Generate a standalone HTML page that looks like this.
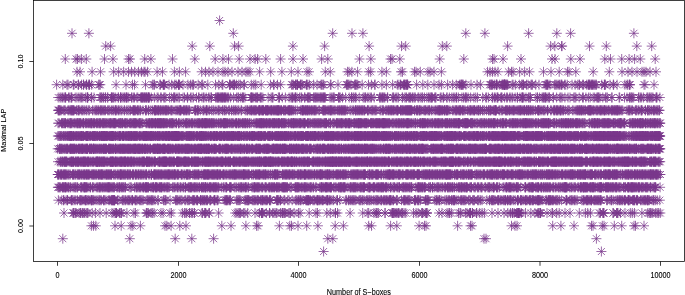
<!DOCTYPE html>
<html><head><meta charset="utf-8"><style>
html,body{margin:0;padding:0;background:#fff;width:685px;height:295px;overflow:hidden}
svg{display:block}
text{font-family:"Liberation Sans",sans-serif;font-size:7.25px;fill:#000;text-anchor:middle;stroke:#000;stroke-width:0.1px}
</style></head><body>
<svg width="685" height="295" viewBox="0 0 685 295">
<defs><marker id="s" markerUnits="userSpaceOnUse" markerWidth="12" markerHeight="12" refX="6" refY="6" overflow="visible"><path d="M2.5 2.5l7 7m0-7l-7 7M1 6h10M6 1v10" fill="none" stroke="#7A378B" stroke-width="0.75"/></marker></defs>
<rect width="685" height="295" fill="#fff"/>
<path d="M323.6 251.5h277.8M62.8 238.7h67h45.4h16.6h21.8h114.2h5h151.2h2h110.4M91.4 225.8h2.1h2.3h19.2h6.2h9.8h1.8h7.6h24.6h1.8h4.3h8.7h6.2h35.8h9.2h14.9h10.6h1.5h21.4h10.4h1.7h6.5h8.7h11.2h17.3h8.2h25.3h2.8h19.1h6.2h22.3h5.4h1.5h31.6h12.9h1.5h39.5h3.5h2h35.7h8.2h13.1h17.5h1.5h9.3h1.7h10.3h7.4h12.3h1.5h8.5M64 213h9h0.5h0.6h1.2h0.8h3h1.4h0.4h1.7h0.5h1.3h1.7h1.2h0.6h4.3h3.2h4.6h6.2h5.8h2.1h1.7h0.1h0.4h0.2h2.9h0.8h1.1h0.1h5.5h7.1h1.5h10.8h0.3h0.7h1.1h2.7h1.3h1.6h7h2h7h1.5h10.9h2.4h0.1h1.8h2.9h0.1h2.3h0.1h2.2h0.1h7.6h0.6h2h0.8h0.4h3.1h0.6h9.1h16.5h1.9h1.8h0.9h0.7h3.3h1.2h2.8h7.3h4.6h1.9h0.1h0.3h0.7h0.1h3.6h3.2h0.2h3.1h1.3h1.8h0.9h3.8h1.7h0.2h1.4h0.3h1h3.7h1h0.7h3.5h4.4h1.5h9.2h6.8h1.5h9.3h3.5h5.1h0.1h2h12.6h12.6h5.1h0.9h5.2h2.1h0.4h1.6h0.1h6.9h0.1h6.8h0.6h0.2h1h0.1h1.2h1.3h1.6h0.8h0.2h2.5h1.1h1.5h1.8h7.7h2.6h2h3.6h0.6h0.4h2.6h1.3h0.3h0.1h12h3h5.1h1.8h0.6h1.8h7.2h1.5h0.7h4.9h1.4h2.6h0.5h0.4h0.1h1.8h0.1h4.1h0.1h3h2.4h2.3h7.6h6h6h3.8h2.7h1.9h0.1h1.7h2.4h0.8h0.7h0.2h0.1h0.4h0.1h0.1h0.8h1.6h4.1h5.3h4.1h3h1h0.2h1.3h0.1h0.1h6.4h5h0.5h4.2h2.5h5.8h5h9.3h6.1h2.3h2.8h8.7h1.2h2.5h0.3h0.5h0.2h9.1h0.3h3.4h0.3h0.3h0.7h2.4h4.6h5.3h2h2.2h7.4h5.9h1.5h1.1h0.7h1.7h2.9h1.5h1.4h1.7M58.4 200.2h3.4h1.7h0.4h2.3h1.3h0.1h3.6h0.3h0.5h0.8h1.4h1.6h1.7h2.2h0.6h0.6h0.3h1h1.8h1.2h0.5h0.1h0.2h1.1h1.1h0.9h2h0.2h0.1h0.6h0.7h0.8h1.5h1.9h1.3h1.4h0.6h1.2h2.2h0.2h0.5h1.6h2.4h1.3h1.5h0.6h0.2h0.4h0.4h0.4h0.3h0.3h0.3h0.5h0.1h0.1h2.8h1.4h3.4h0.7h0.9h1.3h0.7h1.8h0.9h0.8h1.6h1.2h0.2h0.2h2.4h0.8h0.1h1.1h2.3h1h0.8h0.9h1.1h3.9h0.3h1.4h1.1h1.2h0.7h0.6h0.9h1.8h3h0.1h5.4h0.9h1.1h0.5h4.1h5.4h0.8h0.6h0.8h1.5h1.6h1.1h3h0.9h1.8h0.8h1.2h2.8h0.9h0.1h0.8h0.6h1.7h1h0.1h2.9h0.2h0.2h0.1h1.7h0.2h1h1h0.1h1.7h0.1h0.7h2.2h0.9h0.1h3.2h0.6h0.1h0.1h1.3h1.4h0.6h6.3h1.2h0.7h0.1h0.5h0.6h0.8h1.5h0.2h0.5h6.2h1h0.9h1.1h0.6h4.9h0.1h1.4h0.5h0.6h0.5h0.1h0.8h3.1h0.8h1h0.2h1.2h1.6h0.4h1h2.3h0.4h1.1h0.1h0.5h1.1h1.2h1.1h0.1h1.3h1.9h0.2h0.5h0.5h5.9h0.4h0.3h0.4h0.6h0.7h1.5h0.1h3.4h0.7h3.1h1.2h3.2h3.5h1h1.4h0.5h1.3h0.7h0.4h2.2h2.7h0.3h0.6h0.3h0.7h0.2h0.1h0.3h0.3h1.1h0.6h2.4h1.2h0.1h2.1h1.1h0.2h0.3h0.4h1h0.7h1.2h1.3h0.2h1.1h2.4h0.8h0.4h0.2h0.3h0.2h1.6h0.6h1.8h1.6h3.3h0.4h0.1h2.4h5.9h0.9h1.9h0.6h1.5h1.3h0.9h0.9h1.1h1.1h3.2h1h0.1h1.7h0.8h1.4h2.5h0.8h1.6h0.1h1.1h1.5h2h1.4h1.1h0.9h0.1h1.6h2.2h0.1h0.6h1.8h1.1h0.6h1.1h0.6h1.1h1.4h0.4h0.3h0.2h0.3h1.1h1.3h0.4h3h0.7h0.1h4.3h2h0.9h0.5h0.1h1.1h1.6h0.6h0.9h0.7h4.7h0.1h0.5h0.2h1.8h0.7h0.5h0.6h1.4h5h0.3h0.4h0.8h0.5h0.5h0.8h6.1h1.2h0.6h0.6h1.9h0.1h0.2h1.7h3.8h1.4h0.7h1.6h0.9h2h0.4h1.1h0.6h0.4h0.2h0.4h1.5h2.1h2.4h0.9h0.7h1.1h0.7h0.8h1.1h2.9h0.2h1.2h2.7h0.2h1h0.1h3.5h0.4h0.9h1.6h1.5h4.7h2.8h0.1h1.8h0.7h0.2h1h0.6h1.1h2.6h0.3h0.5h0.5h1.4h1.4h1.5h0.9h1h0.1h0.3h1.8h0.1h0.7h1.3h1h0.1h1.3h1.8h1.5h2.4h0.2h0.1h0.1h2.5h0.1h0.8h0.4h1.4h2h0.3h0.5h0.6h1.2h1.8h0.1h0.6h0.5h1.2h0.6h0.5h0.2h2h1.6h0.6h0.5h0.2h0.1h0.4h0.3h0.7h0.4h1h1.7h3.1h0.4h1.8h0.3h0.6h0.1h0.3h1.1h0.1h1.2h0.5h0.7h0.8h2h0.4h1h0.7h1.5h2.2h4.3h0.5h0.3h0.1h3h1.2h0.4h1.3h1.4h0.6h1.2h1.3h4.6h1.1h0.9h0.1h2.2h0.3h0.8h0.5h0.3h1.1h1.1h1h0.2h0.2h2.2h0.7h1h1.1h0.8h0.9h0.6h0.9h0.6h0.4h0.3h5.4h1h2.6h1.4h0.1h1.6h2.8h1.6h0.5h1.4h0.5h0.8h1.3h0.1h2h0.5h0.2h0.4h2.8h0.2h0.1h0.1h0.8h0.7h2.5h0.8h0.5h0.1h0.5h0.4h1.8h0.3h0.2h0.4h3.2h0.2h1.2h1.1h1h0.7h0.6h1.3h0.8h0.1h0.4h0.1h1.4h2.5h1.5h0.2h1.5h1.9h2.6M57.9 187.3h0.5h0.8h0.6h0.5h1.9h0.4h0.5h0.2h0.9h0.1h1.1h0.1h0.1h0.8h1.3h0.9h0.3h1.4h0.5h2.2h1.1h0.8h0.9h0.1h1.4h0.4h3.1h0.3h0.3h1.5h0.8h0.7h0.1h0.5h0.1h0.6h0.5h0.3h0.9h1.6h1.4h0.2h2h0.2h1h2.4h1h0.7h1h0.9h0.1h0.1h1.1h1.2h0.5h1h0.6h1.1h1.1h0.7h0.4h0.8h0.2h0.5h0.2h0.8h0.8h1.1h0.1h1.4h0.4h0.4h2.5h0.4h1.5h0.5h0.4h0.3h1.4h0.7h0.2h1.2h0.7h1.1h0.1h3.8h1.5h0.5h3.3h1.5h0.5h0.8h1h1.2h0.8h0.6h1.5h1.2h0.2h0.1h1.6h0.2h0.3h0.1h0.5h0.2h0.5h0.7h0.1h0.5h2.2h1.1h0.7h0.8h0.3h0.1h1.6h0.2h0.2h0.7h0.1h1.1h1.5h0.1h0.9h0.4h0.7h0.3h0.2h1.3h1.2h0.7h1.3h0.8h0.4h1.1h0.7h3.2h1.1h0.9h1.4h1.6h0.4h1.1h1.6h0.3h2.1h0.6h1.5h0.3h0.2h2.6h0.8h0.2h0.9h0.4h0.5h0.3h0.6h1.3h1.1h0.1h1.2h0.6h0.9h0.9h1.3h0.4h1.9h0.1h0.5h0.6h0.8h0.2h1.1h0.3h0.3h0.1h0.4h1.3h0.7h1.5h0.5h0.2h0.6h0.4h1.5h0.9h0.1h0.8h0.9h0.2h1h0.5h1.1h0.5h2.7h1.8h0.6h1.3h0.9h0.4h0.3h2.8h0.6h0.2h0.2h0.9h2.8h1h1.4h1.8h1.5h0.4h0.9h0.6h0.1h1.5h1.4h0.7h0.1h0.9h1.5h0.4h3.5h0.9h1.1h0.2h0.4h0.1h0.9h1.1h0.6h0.4h1h0.3h0.9h1.6h1h0.4h2.3h0.1h0.8h0.1h2.2h1h0.5h0.4h1.4h0.2h0.7h1h0.8h0.2h1.7h0.2h0.6h0.7h0.5h0.7h0.8h1.6h1.3h0.1h0.6h0.2h0.6h0.1h0.6h0.1h0.6h0.5h0.7h0.5h0.2h2.5h1h0.4h3.7h0.5h0.4h0.9h0.1h0.4h0.4h0.8h0.5h1h1.7h0.2h1.2h1.1h0.4h0.5h0.3h0.9h0.8h1h1.7h0.6h0.7h0.1h1.8h0.5h1.9h1h3.5h0.3h1.2h0.1h0.3h0.2h0.9h0.8h1.3h0.3h0.3h0.6h0.2h0.5h0.2h0.8h0.4h1.2h0.8h0.2h0.4h0.4h0.1h2.2h1.3h0.4h1.5h1.8h0.2h0.8h0.8h0.4h0.2h0.1h0.9h0.2h1.3h0.3h0.4h0.2h0.4h1h2.1h2.2h0.2h0.6h0.3h1.1h0.9h0.2h0.6h0.5h0.7h0.6h0.2h1.4h1.6h1.2h0.6h0.2h0.3h1.4h0.3h0.4h0.2h0.8h0.1h2.7h1.5h0.3h0.2h0.5h0.1h1h2.2h0.5h0.2h0.8h0.4h1.7h0.9h1h0.5h0.8h1.1h0.2h0.2h0.8h0.2h0.7h0.7h0.1h1.7h0.4h0.5h0.3h1.5h2.1h0.5h0.1h2h1.1h0.1h0.2h1.9h1.5h0.3h1.1h0.2h0.2h2.6h0.8h0.6h0.5h1h0.3h1h0.8h0.9h1.1h0.6h0.5h1.1h0.1h0.4h4h1.6h0.8h0.2h0.4h0.3h0.6h0.9h0.4h0.8h0.6h0.3h1.3h0.4h0.2h0.9h3.1h1.1h0.6h0.2h1.9h0.1h0.3h1.5h1.9h1.2h0.5h0.6h1.4h1.2h1.4h1.8h1h0.4h1.8h0.4h0.2h0.9h0.3h1.2h0.8h1.2h0.1h1.4h0.5h2.2h1.6h0.5h0.5h0.5h1.1h0.2h0.6h0.2h0.2h1.5h1h0.2h0.9h0.6h0.2h0.5h0.3h2.5h0.7h0.9h0.1h2.4h1.1h0.1h2.3h0.6h0.4h1.7h1.1h0.6h0.1h3h0.5h1.9h1.3h0.5h0.2h0.7h1.9h1.4h0.3h0.1h0.5h2.3h0.4h0.5h0.6h1.5h3.6h0.9h2h0.2h0.2h0.4h1.2h0.8h0.4h0.4h0.5h0.6h0.2h1.1h1.4h1.4h1.6h0.1h0.6h0.2h0.6h0.7h2.2h4.1h0.3h0.3h0.2h2.5h1h0.4h0.8h0.7h0.8h0.1h0.2h0.1h0.8h0.2h2.1h0.9h0.9h0.4h0.7h0.3h0.1h2.2h0.3h0.2h0.3h1.5h0.4h0.5h1h0.5h1.1h0.4h0.5h1h1.1h0.1h0.8h2.4h0.1h0.8h1.5h0.7h2h0.6h0.6h1.5h0.1h1.6h0.9h0.6h0.5h0.3h0.1h0.6h0.1h0.1h0.7h0.3h0.4h2.2h1h1.2h0.6h1.8h0.5h1.1h2.4h0.4h1.9h0.2h0.5h0.2h0.5h1.2h0.4h0.4h0.2h0.1h0.3h0.1h1.3h0.1h0.1h0.6h0.4h0.8h0.3h1.7h0.9h0.1h0.7h0.6h0.6h0.1h0.8h0.1h0.5h0.8h0.9h1.7h1.4h0.3h0.7h0.3h0.1h0.5h0.1h0.6h0.1h0.3h1.6h1.9h0.2h1.1h0.1h0.5h0.3h0.9h0.2h0.7h1.1h0.5h0.9h0.5h0.7h0.2h0.9h1.3h0.5h0.3h0.2h0.7h1.3h1.3h0.2h1.1h2.5h0.2h0.8h1h0.2h2h0.3h0.2h0.1h0.5h0.5h1.3h0.5h0.2h0.4h0.5h0.1h0.4h0.5h0.4h0.9h0.5h0.6h1h0.5h1.3h0.3h0.2h0.4h0.5h1.5h0.5h0.5h0.7h0.9h1.5h0.3h1h0.2h0.3h0.8h2.1h0.4h0.4h2.1h1.1h0.6h0.4h0.4h0.3h4.3M57.8 174.5h0.1h0.4h0.1h1.3h1h0.2h0.3h0.5h0.3h1.2h0.3h0.8h0.3h0.4h0.7h0.3h0.3h1.4h0.7h0.9h1.1h2h0.3h0.7h0.4h0.2h1.3h0.6h1.4h0.4h0.8h0.5h0.2h0.3h1.2h0.6h0.6h0.3h1.3h0.5h0.3h0.4h0.6h0.9h0.4h0.1h0.7h0.4h0.7h0.1h1h0.4h1.8h0.1h0.4h0.7h0.5h0.6h0.1h0.8h0.7h0.6h0.5h1.2h0.5h0.2h0.7h0.4h0.7h0.4h0.7h0.2h0.1h0.3h0.8h0.1h1.4h1.3h0.1h0.7h0.2h0.4h0.5h0.9h0.2h0.3h0.5h1h0.4h0.1h0.2h0.4h1.7h0.8h0.7h0.7h1.5h0.3h1.3h0.4h0.9h0.5h0.3h0.1h0.1h0.4h0.8h0.9h0.1h0.9h0.6h0.5h0.6h1.2h0.7h0.2h0.2h1h0.7h0.4h0.5h1.8h0.3h0.5h0.1h1.6h0.5h0.2h0.9h0.4h1.2h0.4h0.2h1.3h0.2h0.9h0.7h0.3h1.5h0.3h1.3h0.8h0.1h0.3h1.8h1.1h1.6h0.4h0.1h0.1h2.1h0.5h0.1h0.3h0.6h0.6h0.2h0.4h1.1h0.5h0.7h0.2h0.5h1.1h0.5h0.3h0.3h0.9h1.1h0.8h0.6h0.3h0.7h0.6h0.8h0.6h0.2h0.2h0.5h0.4h0.4h0.5h0.7h0.6h1.2h0.1h0.3h1.1h0.1h0.4h0.2h0.3h0.6h1.2h0.4h0.3h0.9h0.2h2.3h0.2h0.2h1h1.4h0.5h1.5h0.6h0.4h0.1h0.5h0.5h0.2h1h0.4h1h2.1h0.6h1.3h0.3h0.2h0.9h0.4h1.4h0.1h0.4h0.3h1.2h1.5h0.8h1.4h0.3h0.5h0.3h0.2h0.6h0.1h0.9h0.3h0.6h0.5h0.1h0.2h0.1h0.6h0.6h0.8h1h0.1h0.9h0.4h0.3h0.7h0.3h0.5h0.5h0.8h0.5h0.7h0.3h0.2h0.1h0.4h0.8h0.6h0.3h0.9h0.1h1.6h1h0.2h0.2h0.8h0.9h1h0.6h1.2h0.9h0.6h0.8h0.5h0.8h1h0.1h0.3h0.9h0.1h0.4h0.3h0.5h0.2h0.8h0.4h0.7h1.2h0.5h0.8h0.3h0.9h0.5h1.2h0.4h0.1h0.1h0.4h0.3h0.3h0.5h0.4h0.7h0.3h1.4h0.2h0.7h0.1h0.9h2h0.4h1.1h0.4h1.6h0.3h0.6h0.5h0.7h0.4h0.8h0.3h0.5h0.3h0.2h0.6h1h1.3h0.7h0.3h0.7h0.7h0.3h0.3h0.6h1.1h1.2h1.5h0.5h1.6h0.5h1.4h0.4h0.3h0.5h0.2h0.3h0.6h0.5h0.6h0.1h0.7h1.7h2.4h0.2h0.5h0.6h1h0.4h0.5h0.6h0.4h0.5h0.6h1.2h0.2h0.2h0.3h1.3h0.2h1.2h0.2h0.7h0.2h1.2h0.6h2h0.3h0.9h0.3h0.6h1h0.1h0.6h0.1h0.3h1.5h0.3h1.2h0.2h0.1h0.3h0.3h0.2h0.5h1.1h0.2h1.3h0.2h0.8h0.6h0.6h0.6h0.7h0.9h1.2h0.3h0.3h0.3h1.5h0.4h0.8h0.5h1h0.6h0.4h0.1h0.2h0.4h0.4h0.4h0.7h0.3h1.3h1h0.7h0.6h0.6h0.6h0.3h0.1h0.1h1.1h0.3h0.4h0.3h1.2h1.4h0.9h0.3h1.8h0.7h0.4h0.5h0.5h0.5h0.5h1h0.4h0.3h1.3h0.9h0.4h0.1h0.2h1.2h0.2h0.7h0.6h0.9h1.6h1.9h1.1h0.3h0.8h0.5h0.2h0.8h0.3h1.1h0.4h0.2h0.7h0.5h0.2h0.6h0.7h0.3h1.4h0.5h0.8h1.2h0.1h0.3h1h0.1h0.2h0.3h0.3h2.3h1.2h0.3h0.4h0.3h0.2h1.7h0.1h0.1h0.6h1.1h1.5h0.5h0.8h0.1h0.4h0.4h0.5h0.3h0.6h2h0.5h0.4h2h0.3h1.8h0.2h0.9h0.6h0.5h0.5h0.5h0.2h0.3h0.1h0.2h0.6h0.3h0.7h0.8h0.4h0.3h0.3h0.4h0.1h0.7h1.4h0.5h1.7h0.2h0.3h0.7h0.3h0.4h0.4h0.8h1.4h0.4h0.3h2h0.7h0.5h0.2h0.4h0.4h0.2h0.5h0.4h1.3h0.5h0.5h0.7h0.6h0.2h0.9h0.4h0.3h0.3h0.4h1.6h1.2h0.1h0.1h0.4h0.3h0.3h0.4h0.3h0.5h1.9h0.7h1.3h0.2h0.1h0.9h0.7h0.3h0.1h0.5h0.9h0.4h0.4h0.7h0.6h0.1h0.2h0.2h1h0.6h0.6h0.3h0.4h0.8h0.8h0.8h0.3h0.6h0.6h0.5h0.2h0.4h1.2h0.2h0.4h0.6h0.7h0.2h1.2h0.1h0.6h0.8h0.2h1.2h0.1h0.5h0.6h0.2h0.3h0.1h0.1h0.1h1.1h0.1h0.6h0.2h0.4h0.4h0.1h0.3h0.8h1.1h1.9h0.2h0.9h1.1h0.1h0.6h0.1h0.2h0.7h2h0.6h0.2h1h0.5h0.6h0.4h0.3h0.9h0.4h1.4h0.4h1.2h0.4h0.1h0.5h0.8h0.3h0.2h0.9h0.3h0.4h0.2h2.5h1.1h0.8h0.2h1h1.1h0.3h1.3h0.6h1.7h0.9h0.1h0.1h0.3h0.6h2h0.5h0.2h1.5h0.1h0.8h0.6h0.6h0.3h0.4h0.4h0.2h0.4h0.4h1.2h0.4h1h0.6h0.2h0.5h0.5h0.6h0.4h1.4h0.6h1.3h0.3h0.3h0.4h0.3h0.4h0.4h0.1h0.4h1.5h1.1h0.2h0.5h0.6h1.3h1.3h0.1h0.6h0.1h0.3h0.7h0.1h1h1.5h0.5h0.3h1.3h0.4h0.7h0.3h0.4h0.4h0.3h0.1h0.1h0.8h0.4h0.4h0.7h0.1h1.1h1h0.6h1.4h0.9h0.2h0.5h0.7h1.6h0.4h0.8h0.7h0.3h0.3h0.6h0.5h0.6h0.3h0.6h0.2h0.4h0.3h1.3h0.4h0.7h1.1h0.4h0.5h0.7h0.6h0.4h0.3h1.4h0.5h1.2h0.6h0.1h0.1h0.8h0.5h0.2h0.3h0.8h0.2h0.2h0.9h0.3h0.4h0.9h0.3h0.1h0.4h1.4h0.4h0.3h0.6h0.9h0.7h0.9h1h1.7h0.3h0.5h0.7h0.1h0.2h1.9h0.4h0.7h0.2h1.1h0.8h0.6h1.2h0.1h0.5h0.3h0.4h0.6h0.1h0.7h0.1h0.3h0.4h0.8h0.6h0.9h1.5h0.5h0.3h0.1h0.7h1h0.3h0.2h0.1h0.5h0.8h0.6h0.5h0.4h0.4h0.6h0.4h0.4h0.3h0.2h0.3h0.3h1.7h0.5h1.2h0.9h0.1h0.4h0.4h0.4h0.3h0.3h0.4h2.1h0.3h0.1h0.3h1.3h0.5h1.5h0.1h1.4h0.5h0.2h0.6h2h0.6h0.8h0.1h0.5h0.3h0.3h0.5h1.1h0.2h0.6h0.2h0.2h0.5h0.2h0.4h0.3h0.6h1.4h0.2h0.1h0.8h0.4h0.5h0.4h0.2h0.2h0.3h0.9h0.3h0.3h0.1h0.3h1.6h1.4h0.5h1.4h0.3h0.5h1.9h0.2h0.5h1h0.3h0.3h0.9h0.1h0.4h0.1h1.2h0.4h0.6h0.6h0.7h0.5h1.4h0.4h0.1h0.4h0.5h0.8h0.8h0.3h0.3h0.5h1.1h0.4h0.5h0.8h0.4h0.7h0.4h0.3h0.3h1h0.3h0.9h0.4h0.4h0.9h0.8h0.8h0.4h0.7h0.6h0.3h0.1h0.2h0.2h0.5h0.7h0.4h0.2h0.6h0.3h0.4h1.1h0.3h0.5h0.4h0.2h0.1h0.9h0.3h0.2h2h0.1M58 161.7h2.1h0.3h0.6h0.9h0.5h0.1h1.1h0.9h0.2h0.1h0.6h0.4h0.3h0.3h0.2h1.3h1.5h1.1h0.7h0.1h0.2h0.3h0.6h0.3h0.6h0.1h0.1h1.5h0.4h0.5h0.2h0.9h0.1h0.5h0.5h0.2h0.4h0.2h1.2h0.4h1.1h0.3h0.4h0.7h0.5h0.3h0.2h0.2h0.5h0.5h0.2h0.4h1h0.4h0.4h0.5h0.2h0.4h0.3h1.1h0.8h0.2h1.4h0.6h0.3h0.8h1.6h0.3h0.1h0.2h0.6h0.1h0.2h0.2h0.2h0.3h0.8h0.2h0.4h0.3h0.2h0.7h0.7h0.2h0.6h0.2h0.7h0.2h0.4h0.4h0.2h0.4h0.4h0.9h0.8h1h0.3h1.8h0.4h0.2h0.2h0.4h0.5h0.3h0.1h0.5h0.1h0.1h0.6h0.1h0.6h0.4h1.2h0.1h0.1h0.2h0.5h0.6h0.8h0.1h1.1h0.3h0.8h0.2h0.6h0.1h0.3h0.2h0.4h0.8h0.2h0.5h0.7h0.4h0.3h0.2h0.2h0.1h0.2h0.9h0.9h0.5h0.1h0.3h0.1h1.4h0.3h0.6h0.5h0.1h0.5h0.2h0.3h1.3h0.3h0.5h0.6h1.2h0.8h0.4h1.3h0.8h0.4h1.2h0.2h1.1h0.1h0.6h0.3h0.2h0.4h0.6h0.3h1.5h0.2h0.1h0.4h0.2h0.1h0.6h0.2h0.7h0.3h0.1h0.3h0.8h0.8h0.5h0.8h0.8h1.1h0.3h0.2h0.3h0.3h2.4h1h0.3h0.4h0.1h0.4h0.2h1h0.8h0.2h0.1h0.8h0.4h0.1h0.6h0.1h0.1h0.1h0.8h0.2h0.2h0.2h0.2h0.4h0.2h0.6h1.5h0.4h0.1h0.4h0.7h0.4h0.4h0.3h1.2h0.4h0.2h0.4h0.5h0.4h1.9h0.3h0.2h0.2h0.1h0.4h0.2h0.4h0.1h0.3h0.7h0.5h0.1h0.7h0.8h0.8h1.2h0.5h0.1h0.3h0.5h0.1h0.2h0.1h0.6h0.2h0.3h0.8h0.7h0.1h0.3h0.4h0.8h1.7h0.3h0.3h0.2h0.3h0.7h1h0.1h0.1h0.1h0.6h0.7h0.1h0.1h0.5h0.2h0.8h0.2h0.4h0.3h0.3h0.5h1.1h0.9h1.4h0.2h0.2h1.1h1h0.1h0.1h0.3h0.5h0.5h0.4h0.3h0.2h0.6h0.5h0.1h0.3h0.4h0.4h0.7h0.1h0.6h0.2h0.9h0.6h0.7h0.1h1.1h0.4h0.9h0.3h0.7h0.2h0.1h0.3h1h0.8h0.7h0.9h0.1h0.2h0.2h0.4h0.6h0.1h0.1h0.6h0.8h1.2h0.3h0.1h0.1h0.5h0.8h0.4h1h0.3h0.1h0.5h0.6h0.3h0.2h0.1h0.2h2.3h0.3h0.1h0.1h0.4h0.5h0.1h0.8h0.7h0.1h0.7h0.3h1h0.8h0.2h0.4h0.3h0.5h0.2h1.2h0.7h0.5h0.6h0.6h0.5h0.1h0.4h0.4h0.3h0.6h0.1h0.6h0.6h0.6h0.2h0.7h1h0.9h0.5h0.6h0.4h0.8h0.4h0.3h0.7h0.7h0.4h0.7h0.7h0.4h0.1h0.5h0.8h0.1h0.3h0.2h0.3h0.1h1h0.1h0.4h0.6h1.3h0.3h0.2h0.3h0.5h0.2h0.2h0.2h0.3h0.2h0.2h0.3h0.2h1h0.4h0.4h0.4h0.2h0.1h0.8h0.2h0.1h0.1h0.2h0.3h0.2h0.2h0.6h0.3h0.5h0.5h0.1h0.5h0.9h1.1h0.1h0.3h1.1h0.5h0.6h0.2h0.6h0.1h1.9h0.2h0.5h0.2h0.5h0.4h0.8h0.2h0.5h0.3h0.9h0.6h0.5h0.9h0.2h0.1h0.1h0.1h0.1h0.9h0.9h0.2h0.8h0.3h0.1h0.3h0.2h0.2h0.1h0.1h0.6h0.4h1h0.2h0.1h0.2h1.1h0.3h0.2h0.4h1h1h0.6h0.5h0.2h1.2h0.2h0.9h0.7h0.4h0.5h0.4h0.3h0.6h0.5h0.8h0.7h0.1h0.2h0.2h0.7h0.3h0.7h0.1h2.4h0.6h0.5h0.3h0.4h0.1h0.1h1.3h0.5h0.5h0.7h0.4h0.3h0.7h0.5h0.5h0.2h0.8h1h1h0.3h0.7h1.3h0.2h0.5h0.2h0.2h0.2h0.6h1h0.1h0.3h0.5h0.6h0.2h0.2h0.9h0.1h0.2h0.3h0.7h0.2h0.1h0.3h0.2h0.2h0.1h0.2h0.4h0.2h0.8h0.4h0.1h0.5h0.4h0.4h0.1h0.1h0.1h0.6h0.8h0.2h0.4h0.3h0.2h0.1h0.5h0.6h0.2h0.4h0.5h0.2h0.4h0.3h0.3h0.6h0.7h0.4h0.4h0.3h0.1h0.6h0.5h0.4h0.1h0.3h0.4h0.8h0.3h0.4h0.5h0.1h0.1h0.4h0.4h0.2h1.2h0.9h0.8h0.7h0.5h0.7h0.2h0.8h0.1h0.3h0.1h0.7h0.2h0.6h0.7h0.2h0.8h0.2h1.4h0.1h0.2h0.5h0.6h0.5h0.8h0.7h0.1h0.1h1.4h0.2h0.3h0.2h0.2h0.2h0.2h0.2h1.4h0.2h0.2h0.9h0.2h0.1h0.2h1.1h0.8h0.5h0.6h0.1h0.2h1h0.2h0.6h0.4h0.3h0.2h0.6h0.9h0.1h0.4h0.7h0.8h0.3h0.7h0.1h0.4h0.6h0.3h0.6h0.7h0.2h0.3h0.2h0.5h1h0.3h1.2h0.1h0.1h0.2h0.1h0.5h0.1h0.5h1.8h0.1h0.6h0.9h0.6h0.3h0.6h0.9h0.5h0.5h0.1h0.3h0.5h0.3h0.1h1.1h0.4h1h0.1h0.6h0.2h0.6h0.8h0.3h1.2h0.3h0.5h0.8h0.3h0.5h0.4h0.2h0.4h0.1h0.8h0.4h1h0.5h0.3h0.2h0.5h0.8h1.1h0.3h0.5h0.3h0.2h0.3h0.5h0.1h0.4h0.2h0.5h1.1h0.2h0.4h0.1h0.2h1.3h0.3h0.3h0.2h0.5h1.2h0.5h0.5h0.2h0.3h0.6h0.2h0.5h1.2h1h0.4h0.8h0.9h0.3h0.6h0.4h1.5h0.8h0.2h0.8h0.2h0.5h0.2h0.6h0.3h0.5h1.5h0.2h1.7h0.9h0.7h0.4h0.1h0.8h0.9h0.1h0.3h0.4h0.5h0.6h0.3h0.2h0.4h1.3h1.1h0.5h0.2h0.5h0.2h0.2h0.3h0.6h0.1h0.2h0.2h0.5h0.3h0.1h0.1h0.2h0.3h0.2h1.6h0.2h0.1h0.3h0.9h0.7h0.8h0.4h0.1h0.4h0.6h0.2h1h0.3h2.1h0.2h0.5h0.9h0.3h0.9h1.5h0.2h0.2h0.3h1h1.2h0.4h0.1h2.3h0.2h0.4h0.6h1.1h0.6h1.3h0.9h0.3h0.7h0.5h0.1h0.6h0.4h0.8h0.3h0.2h0.3h0.3h0.8h0.3h0.9h0.6h0.3h0.4h0.2h0.4h0.8h0.6h0.5h0.4h0.3h0.4h0.6h0.2h1.2h0.3h0.6h1h0.2h0.1h0.3h0.6h0.1h0.3h0.1h0.7h0.6h0.1h0.4h0.3h1.2h0.1h0.1h0.1h0.3h0.2h0.1h0.2h0.4h0.3h0.4h0.2h0.6h0.2h0.4h0.8h1.2h0.2h0.3h0.4h0.2h0.4h1.3h0.4h0.7h0.4h0.4h0.7h0.9h0.2h0.1h0.2h0.6h0.6h0.9h0.3h1.5h1.2h0.1h0.1h0.4h1.1h0.1h0.2h0.8h0.4h0.4h2.1h0.3h1.1h0.5h0.3h0.3h0.3h0.9h0.3h0.4h1h0.2h0.3h0.5h0.3h0.8h0.2h0.5h0.7h0.3h0.3h0.9h1.5h0.4h0.3h0.3h0.3h1.2h0.3h1.9h0.2h0.1h0.3h0.1h0.5h0.3h0.3h0.3h0.7h0.5h1h0.1h0.1h0.3h0.6h0.9h0.4h0.8h0.9h0.5h0.3h0.1h0.4h0.5h0.1h1.8h1h0.3h0.2h0.4h0.2h0.8h0.3h0.1h0.1h0.5h0.4h0.2h0.2h0.5h0.2h0.1h0.4h0.2h0.1h1.1h0.2h0.6h0.4h0.4h0.5h0.7h0.5h0.4h0.6h0.7h0.6h0.3h0.5h0.6h0.5h0.2h0.6h0.2h0.5h0.1h0.8h0.2h1h0.6h1h0.3h0.2h0.4h0.3h0.3h0.1h0.1h0.1h1.4h0.5h0.3h0.3h0.5h0.4h0.5h0.3h0.5h0.5h0.7h0.4h0.6h0.1h0.3h0.5h0.6h0.2h0.3h0.2h0.4h0.6h0.6h2.1h0.4h0.6h0.3h0.3h0.4h0.4h1.9h1h0.3h1.2h0.1h0.8h0.3h0.3h0.1h0.1h0.4h0.2h0.7h0.4h0.6h0.9h0.1h0.1h0.2h0.3h0.9h0.3h0.7h0.8h0.4h0.3h0.6h1.3h0.8h0.5h0.3h0.2h0.2h0.9h0.1h0.8h0.3h0.8h0.2h0.5h0.4h0.4h0.1h0.1h0.5h0.4h0.4h0.5h1.4h0.1h1h0.4h0.1h0.2h1.2h1.1h0.7h1.1h0.4h0.2h1h0.2h1.1h0.4h0.7h0.2h0.4h0.4h0.9h0.2h0.1h0.2h0.2h0.2h0.6h0.2h0.3h0.5h0.3h0.3h0.1h0.6h0.2h0.1h0.4h0.4h0.8h0.9h1.2h0.1h0.1h0.1h0.3h0.5h1.1h0.5h0.3h0.3h0.8h0.2h0.7h1.6h0.6h0.6h0.4h0.4h0.6h0.2h0.3h0.2h0.7h0.9h0.1h0.2h0.4h0.7h0.1h0.8h1.1h2.4h0.7h0.5h0.2h0.6h0.2h0.3h1.3h0.3h0.3h0.1h0.5h0.6h0.1h0.2h0.4h1.1h1.3h0.5h0.7h0.8M57.7 148.8h1.7h0.3h0.1h0.6h0.6h0.7h0.1h0.9h1.2h0.5h1.2h0.9h0.4h0.5h0.3h1.4h0.8h0.6h0.1h0.4h0.3h0.1h1.1h0.2h0.4h0.8h0.1h0.1h0.2h0.8h0.9h0.5h1.4h0.6h0.3h0.3h0.6h0.3h0.4h1h0.3h0.4h0.2h0.3h0.3h0.2h1h0.6h1.1h0.1h0.2h0.4h0.6h0.2h0.2h0.3h1.6h0.1h0.5h0.3h0.8h0.1h0.1h0.2h1.2h0.7h0.1h0.2h0.1h0.2h0.8h0.5h0.8h0.1h1.1h0.6h1h0.3h0.5h0.9h0.5h0.6h0.5h1.1h0.2h0.3h0.5h0.3h0.7h0.4h0.2h0.4h0.4h1.9h0.2h0.2h0.2h0.4h0.8h0.1h0.9h0.3h0.9h0.5h0.3h0.6h1.3h0.2h0.1h0.1h0.1h0.2h1.1h0.9h0.3h1.5h0.2h0.1h0.2h0.9h0.7h0.1h0.5h0.5h0.5h0.5h0.3h0.3h1h0.4h0.2h0.9h0.4h0.7h0.2h0.4h0.7h0.6h0.2h0.6h0.2h0.9h0.7h0.5h0.7h0.1h0.1h0.5h0.4h0.5h0.2h0.2h0.2h0.9h0.6h0.4h0.3h0.5h0.2h0.4h0.4h0.2h0.6h0.5h0.7h0.4h0.4h0.1h0.5h1.3h0.3h0.2h0.1h0.2h0.6h1.1h0.1h0.7h0.2h1.3h0.8h0.4h0.2h2h0.8h0.3h0.3h0.1h0.3h0.6h0.5h0.2h0.5h0.8h0.2h0.1h0.1h0.1h0.2h0.8h0.1h0.5h0.4h0.4h0.3h0.3h1.2h0.5h0.5h0.4h0.2h0.5h0.2h0.2h0.4h0.1h0.2h0.2h1.7h0.5h0.2h0.9h0.2h0.1h1h0.2h0.2h0.6h1.1h0.3h0.5h1h1.4h0.6h0.1h0.1h1h0.2h1h0.1h0.3h1h0.4h0.4h1.1h0.3h0.8h0.4h0.8h1.1h0.1h0.5h0.3h0.6h0.1h0.8h0.4h0.1h0.5h0.5h0.1h0.7h0.6h0.7h0.8h0.2h0.3h1.1h1h0.5h0.1h0.6h0.4h0.9h0.8h0.4h0.4h0.3h0.4h0.2h0.5h0.4h0.4h0.1h0.6h0.1h0.3h0.2h0.2h0.9h0.9h0.2h0.4h0.5h0.3h0.9h0.1h0.2h0.4h0.2h0.5h0.8h0.1h0.2h0.3h0.4h0.2h1.7h0.2h0.9h1h0.7h0.3h0.2h0.4h0.3h0.4h0.9h2.3h0.5h0.1h0.3h0.8h0.4h1.4h0.5h1.2h0.4h1h0.3h0.4h0.3h0.4h0.4h0.1h0.9h0.4h1.5h0.9h0.5h0.3h0.5h0.7h1h0.7h0.9h0.8h1.1h0.8h0.7h0.9h0.4h0.3h0.4h0.1h1.1h0.8h1h0.4h0.2h1.5h0.4h0.4h0.2h0.3h0.9h1h0.4h1.4h0.6h0.6h0.1h0.6h2h0.7h0.6h0.2h0.3h0.2h0.3h0.7h0.8h0.1h0.1h0.1h0.8h0.4h0.1h1.7h1h0.6h0.8h0.3h0.3h0.8h0.4h0.4h0.3h0.2h0.3h0.5h0.7h0.2h0.3h1.9h1.1h0.5h0.4h0.1h0.3h0.3h0.1h0.5h0.9h0.2h0.7h0.5h0.1h0.1h0.5h0.4h0.5h0.4h0.9h0.3h0.5h0.1h0.4h0.9h0.7h0.1h0.2h0.2h0.5h0.5h0.5h0.2h0.2h0.1h0.1h0.2h1h0.9h1.9h0.4h0.2h0.4h0.8h0.1h0.3h0.4h0.3h1.1h0.3h0.4h0.6h0.8h0.8h0.2h0.1h0.2h0.4h0.9h0.2h0.7h0.1h0.7h1.2h0.7h0.2h0.7h0.2h0.3h0.3h0.5h0.3h0.9h1h0.1h0.7h0.7h0.4h1.4h0.4h0.7h0.1h0.3h0.8h2h0.8h1.2h1.3h0.3h0.4h0.4h0.5h0.9h0.7h0.2h0.6h0.2h1.4h0.2h0.5h0.1h0.5h0.4h0.1h0.3h0.4h1h1.4h0.6h0.2h0.1h0.6h0.1h0.4h1.1h0.2h0.3h0.8h0.6h0.1h0.3h0.9h0.2h0.8h1h0.2h1.1h0.5h1.2h0.5h0.2h0.1h0.7h1.1h0.2h0.2h0.3h1.7h0.4h1h0.3h0.7h0.3h0.9h0.9h0.4h0.3h1h0.4h0.8h0.4h0.2h1h0.1h0.6h0.4h0.3h0.6h0.4h0.1h1h0.3h0.6h0.2h0.8h0.5h0.1h0.3h0.3h0.3h0.9h0.4h0.9h0.4h0.2h0.5h1.2h0.4h0.1h0.1h0.3h0.5h0.2h0.6h0.3h0.3h0.6h0.3h0.4h1.1h0.1h1.3h0.4h0.1h0.7h0.4h0.3h0.3h0.4h0.5h0.8h0.5h0.4h1.3h0.6h1.4h0.7h1.1h0.3h1h1.4h0.4h0.4h0.1h1.3h0.5h0.1h0.2h0.4h0.4h0.3h0.6h0.7h0.3h0.3h0.1h0.2h1.3h0.1h1.4h0.7h1.3h0.3h0.5h0.7h0.4h0.2h0.8h0.9h0.6h0.9h0.8h0.4h0.5h0.9h0.1h0.3h0.2h0.9h0.6h0.9h0.8h0.5h0.1h0.7h0.5h0.2h1h0.2h0.5h0.3h0.2h0.3h0.5h1.2h0.1h1h0.8h0.4h0.3h0.3h0.6h0.7h0.4h1.3h0.4h0.3h0.6h0.3h0.4h0.6h0.6h0.4h0.3h0.1h0.5h0.1h0.1h0.5h0.3h1.1h0.9h1h0.9h0.7h2.6h0.6h0.1h0.9h0.6h0.1h0.5h0.3h0.1h0.7h1h0.4h0.2h0.7h0.8h0.2h0.7h0.8h0.8h0.4h0.2h0.5h0.2h0.1h0.4h0.2h0.3h0.4h0.2h1.6h1.3h0.2h0.5h0.9h0.6h0.2h0.2h1h0.5h0.1h0.4h0.4h0.1h0.5h0.2h0.6h0.1h0.8h0.4h0.1h2h0.4h0.3h0.1h0.5h0.3h0.2h0.1h0.3h0.9h0.3h0.9h0.3h0.2h0.6h0.7h0.1h0.4h0.5h0.7h0.7h0.1h1.3h0.5h0.4h1.2h0.5h0.4h0.4h0.1h0.2h0.5h0.6h0.2h0.1h0.6h0.7h0.5h0.4h0.8h0.3h0.3h0.2h0.8h0.1h0.4h0.1h0.2h0.6h0.9h0.4h1h0.3h1h0.5h0.2h0.3h1.2h0.1h0.3h0.4h0.8h0.2h0.2h0.6h0.3h0.1h0.1h0.1h0.5h0.2h2.5h0.4h0.4h0.2h0.4h0.1h0.5h0.6h0.3h1h0.8h0.8h0.3h0.6h0.2h0.4h0.6h0.5h0.6h0.3h0.2h0.3h0.4h0.1h0.5h0.4h0.8h0.6h0.9h0.3h0.1h0.4h1.1h0.3h0.3h0.3h0.6h0.2h0.1h0.3h0.6h0.8h0.4h0.4h0.6h0.7h0.5h0.7h0.3h0.5h0.2h0.4h0.3h0.6h0.8h0.2h0.1h0.7h0.6h0.5h0.9h0.3h0.7h0.4h0.3h1h0.1h0.1h0.4h0.1h0.5h0.1h1.4h0.4h0.4h0.1h0.7h0.5h0.2h0.2h1.2h0.3h0.4h0.5h0.2h0.9h0.2h0.1h0.6h0.8h0.5h0.2h0.4h0.2h1.7h0.2h1.4h0.2h0.2h0.8h0.6h0.4h0.9h0.4h1.4h1.2h0.1h0.4h0.6h0.9h0.4h1.2h0.3h0.2h0.7h0.7h0.8h0.6h0.3h1.2h0.5h0.8h0.4h0.1h0.4h0.1h1h0.7h0.3h0.6h0.5h0.3h0.2h0.5h1.2h0.3h0.3h0.8h0.1h0.5h0.3h0.5h0.2h0.5h0.1h0.2h0.3h1.2h0.3h0.2h0.4h0.8h0.3h0.5h0.6h0.5h0.2h0.8h0.5h0.4h0.6h0.4h0.3h1.2h0.2h0.5h0.9h0.2h0.1h0.2h0.4h0.9h0.5h0.2h0.3h0.5h0.8h1.4h0.1h0.8h1.3h0.4h0.1h0.1h0.3h0.7h0.3h1h0.1h0.3h1.8h0.3h0.4h0.1h0.6h0.3h0.3h0.2h0.1h0.1h0.2h0.2h1.1h0.6h0.3h1h0.6h0.9h0.3h0.4h0.1h0.2h0.4h0.6h0.6h1.1h0.8h0.4h0.1h0.1h0.3h0.9h0.6h0.1h0.2h0.4h0.2h0.4h0.9h0.1h0.3h0.6h0.8h0.2h0.9h0.4h0.3h0.6h0.1h0.5h0.7h0.2h0.5h0.1h0.3h0.1h0.6h0.2h1h0.9h0.5h0.2h1.5h0.5h1h0.2h0.2h1.2h0.8h0.4h0.1h0.1h0.2h0.1h0.4h0.2h0.3h0.1h0.6h0.5h0.6h0.7h0.5h0.3h0.8h0.4h0.3h0.9h0.5h0.5h0.9h0.1h0.7h0.7h0.2h0.6h1.1h0.2h0.1h0.3h0.8h0.6h0.8h0.9h0.9h0.4h0.4h0.2h1h0.2h0.2h0.1h0.3h0.2h1.7h1.5h0.6h0.9h0.4h0.3h0.6h0.3h0.7h0.3h1.8h0.9h0.7h0.2h0.1h0.2h0.2h0.2h0.6h0.8h0.1h0.4h0.3h0.7h0.2h0.3h0.3h0.9h0.7h1.3h0.5h0.1h0.3h0.1h1.1h0.1h1.2h0.2h0.2h0.6h0.1h0.2h0.6M57.9 136h0.9h0.8h0.9h0.9h0.7h1.7h0.1h0.1h1.7h0.3h1.1h0.6h0.7h0.6h0.6h0.3h0.5h0.2h0.5h0.4h0.2h0.3h0.9h0.5h0.3h0.4h1.3h0.9h0.5h0.3h1h0.2h1.1h0.8h0.8h0.1h0.1h0.5h0.3h0.1h0.9h0.4h0.5h1.9h0.4h0.2h0.3h0.2h0.4h0.3h0.4h0.1h1h0.8h0.8h0.3h1.5h0.2h0.6h0.1h0.7h0.5h0.2h0.4h0.7h0.1h1h0.4h0.7h1.4h0.3h0.2h1h0.4h0.2h0.4h0.3h0.5h0.2h0.5h0.3h0.6h0.1h0.3h0.8h0.3h0.4h0.4h0.2h0.7h0.4h1.1h0.3h0.8h0.5h0.2h0.7h0.3h0.1h0.2h0.3h0.2h0.7h0.3h0.5h1.1h0.2h1.4h1h0.4h1.3h0.1h0.1h0.3h0.2h0.5h1.3h0.6h0.2h0.3h0.3h0.1h0.2h0.3h1.6h0.4h0.3h1.3h0.2h0.7h0.1h0.5h0.4h1h0.2h0.4h0.3h0.3h0.5h1h0.2h1h0.4h0.1h0.5h0.9h0.3h0.5h0.6h1.3h0.7h0.1h0.3h1.1h1.3h0.8h0.2h0.4h0.1h0.2h0.6h0.5h0.4h0.1h0.6h0.2h0.3h0.2h0.8h0.4h0.8h0.1h1.4h0.1h0.1h0.1h0.3h0.4h1.2h0.1h0.1h0.1h1.1h1h0.3h0.4h1.1h0.4h0.4h0.4h0.6h0.6h0.6h0.1h1.7h0.1h0.7h0.4h0.3h0.9h0.8h0.4h0.6h0.2h0.3h0.3h0.9h0.2h0.5h0.1h0.3h0.4h0.2h0.3h1h0.5h0.2h1h0.2h0.4h0.6h0.1h0.6h0.1h0.1h0.4h0.5h0.1h0.2h0.2h0.4h0.2h0.1h0.1h0.4h0.1h0.7h0.2h0.2h0.3h0.3h0.7h1.2h0.3h0.5h0.9h0.4h0.2h1.9h1.2h0.3h0.7h0.6h0.2h0.2h0.8h0.5h0.2h0.3h0.4h1h0.4h0.5h1.1h0.4h0.3h0.8h1.4h0.3h0.4h0.4h1.4h0.8h0.2h0.2h0.1h0.9h0.3h0.1h0.1h0.1h0.8h0.5h0.3h0.4h0.8h0.9h0.5h0.4h0.9h1.1h0.6h1.3h0.3h0.3h0.4h0.7h1.1h0.5h0.3h0.7h0.2h0.2h0.3h1.1h0.2h0.2h0.5h0.4h1.5h0.6h0.3h0.4h0.5h0.7h0.2h0.1h1.4h0.6h0.1h0.2h0.1h0.3h0.4h1h0.6h0.6h0.1h0.8h0.6h0.3h0.6h0.6h0.6h0.6h0.1h0.5h0.5h0.5h0.3h0.1h0.1h0.4h0.8h0.7h0.6h1.1h0.2h0.4h0.6h0.3h0.5h0.1h0.2h0.3h0.6h1.2h0.2h1.6h0.1h1.1h1.3h0.3h0.8h0.3h0.6h1.5h0.2h0.8h1.1h0.3h0.3h0.5h0.1h0.4h0.2h0.7h0.3h0.4h0.3h1.2h1.1h0.8h0.4h0.3h0.2h0.3h0.7h0.4h0.6h0.2h0.2h0.4h0.5h1.4h0.3h0.7h0.3h0.3h0.5h2h0.5h0.1h0.8h0.4h0.1h0.9h0.4h1.2h0.1h0.2h0.4h1.9h0.7h0.5h0.4h0.4h0.4h0.6h0.3h0.5h0.1h1.1h0.3h0.4h0.6h0.1h0.8h0.3h0.5h0.5h1h0.2h0.3h0.2h0.4h0.4h0.6h0.4h0.2h0.8h0.7h0.3h0.4h1.1h0.3h0.9h0.9h1h1.3h0.4h0.1h0.1h0.2h0.3h1.1h1h0.1h0.2h0.8h0.7h0.9h0.3h0.6h0.2h0.3h0.4h0.6h0.1h0.5h1.8h0.3h0.8h0.3h0.3h0.2h0.1h0.2h0.2h0.1h0.3h0.4h0.5h0.9h0.6h0.3h0.2h0.8h0.6h0.3h0.8h0.7h0.2h0.2h0.2h0.1h0.2h0.5h0.3h0.2h1.5h1h0.1h0.1h1h0.8h1.2h0.5h0.5h1.5h0.5h0.1h0.9h0.1h0.4h0.1h0.1h0.9h0.2h0.8h0.1h0.4h0.9h0.4h0.6h0.1h0.4h0.3h0.7h0.5h0.3h0.2h0.1h0.4h0.9h1h0.9h0.6h0.3h1.2h0.2h0.1h1h1.1h0.5h0.8h0.6h1h0.2h0.4h0.6h0.3h0.4h0.9h0.4h0.4h0.1h0.4h0.1h0.2h1.2h0.4h1.2h0.6h0.9h1.2h0.5h0.1h0.4h0.2h0.3h0.3h0.9h0.3h0.2h0.6h0.4h0.1h0.2h0.7h0.5h0.6h0.3h0.2h0.2h0.4h0.4h0.4h0.8h0.3h0.8h0.5h0.2h0.8h0.1h0.4h0.2h1.3h0.3h0.3h0.4h1.1h0.2h0.5h0.6h0.3h1h0.1h0.2h0.2h0.3h0.3h0.2h0.8h0.3h0.6h0.2h0.2h0.8h0.2h0.1h0.3h0.4h0.9h0.5h0.3h0.7h0.1h1.5h0.1h1.2h0.2h0.3h0.1h0.2h0.6h0.4h0.1h0.5h0.6h0.3h0.4h0.1h1.2h0.1h0.9h0.3h0.3h1h0.3h0.4h1h0.4h1.8h0.3h0.2h0.1h0.5h0.5h0.6h0.2h0.7h0.8h0.3h0.1h0.6h0.9h0.5h0.8h1h1.1h0.5h1.2h0.5h0.1h0.9h0.4h0.6h0.2h0.1h1.4h0.5h0.6h0.9h0.1h0.4h0.4h1.3h0.3h0.1h0.1h0.2h0.6h0.3h0.8h0.5h0.2h0.5h0.2h1.7h1.3h0.2h0.9h0.4h0.6h0.3h0.6h0.1h0.1h0.2h0.4h0.4h0.2h0.6h0.9h0.1h0.1h0.4h0.1h1.2h1.1h0.3h0.8h0.4h0.5h0.2h0.4h0.4h0.1h0.2h1.2h0.1h0.6h0.1h0.1h0.1h0.2h0.4h0.3h0.5h0.4h0.3h0.2h0.7h1h0.3h0.7h0.5h0.8h0.4h0.4h2h0.5h0.3h0.9h0.8h0.4h0.4h0.4h0.1h0.4h0.7h0.5h0.5h0.2h0.4h0.4h0.5h0.3h0.1h0.6h0.1h0.4h0.4h0.9h0.1h0.7h0.3h0.1h0.3h0.4h0.9h1.2h0.1h1.3h0.2h0.2h0.1h0.3h1.2h2.4h0.1h0.3h0.3h0.1h0.1h0.5h0.6h0.3h1h1.4h0.6h0.6h0.1h0.9h0.7h0.9h0.7h0.6h0.2h0.3h0.1h0.5h0.7h1.2h0.1h0.1h0.7h0.1h0.1h0.2h0.2h0.4h1.4h0.5h0.3h0.4h1.3h0.1h0.6h0.3h0.8h0.7h1.4h0.3h1.5h0.6h0.3h0.1h0.2h0.3h0.7h1.5h0.2h0.2h0.2h0.3h0.8h0.2h0.5h0.1h0.7h0.6h0.3h0.4h0.6h0.5h0.7h0.3h0.4h0.9h0.4h0.9h0.3h0.5h0.4h0.1h0.5h0.1h0.1h0.5h0.5h0.3h0.1h0.3h1h0.1h0.4h0.4h0.4h0.6h0.4h0.6h0.9h0.8h0.2h0.3h0.5h0.1h0.4h0.9h0.1h0.4h0.4h0.5h0.2h0.1h0.4h0.2h0.5h1.5h0.7h0.2h0.5h0.5h0.1h0.6h1.3h2.4h0.1h0.4h1h0.1h0.5h0.4h0.3h0.1h0.1h0.4h0.2h0.4h0.3h0.1h0.5h0.7h0.3h0.8h0.3h1.1h0.5h0.6h0.2h0.7h0.1h0.2h1.1h0.6h0.1h0.6h0.5h0.3h0.1h0.2h0.6h0.2h0.5h0.2h0.3h0.5h0.6h0.5h0.3h0.5h0.2h0.5h0.3h1.9h0.3h1.5h0.3h0.8h0.4h0.8h0.1h0.7h0.6h0.4h0.5h0.4h0.6h0.5h0.1h0.6h0.5h0.4h0.7h0.1h0.6h0.9h0.4h0.4h1.5h0.6h0.7h0.1h0.2h0.2h0.1h0.7h0.1h0.2h0.5h0.5h0.8h0.5h0.4h0.2h0.5h0.1h1h0.2h1.6h0.1h0.6h0.8h0.2h0.1h0.6h0.5h0.5h0.4h0.7h1.2h0.7h0.2h0.6h0.4h0.1h0.8h0.6h0.1h0.8h0.5h0.2h0.3h2h0.3h0.1h0.1h0.4h1.4h0.1h0.7h0.4h0.6h0.1h0.6h0.5h0.2h0.1h1h1.3h0.6h1.2h0.8h0.3h1.6h0.2h0.4h0.3h0.6h0.4h0.5h0.2h0.5h0.4h0.8h0.2h1h0.4h0.6h0.1h0.4h0.1h0.3h0.3h0.3h0.3h0.4h0.3h0.5h0.8h0.1h0.2h0.2h0.3h0.2h0.2h0.8h0.3h0.8h0.6h0.5h0.3h0.4h0.1h0.4h0.2h0.2h0.5h0.6h0.5h0.1h0.3h0.6h0.8h0.3h0.5h0.2h0.1h0.5h0.4h0.4h0.4h0.1h0.6h0.3h0.4h0.5h0.1h0.2h0.1h0.7h0.8h0.1h0.4h0.1h0.4h0.4h0.6h0.9h0.8h0.9h0.3h0.4h1.3h0.6h2.1h1.3h1.4h0.4h1.2h0.5h0.5h0.1h0.8h0.7h0.5h0.4h0.2h0.5h0.1h0.6h1h0.5h0.2h0.5h0.4h0.4h0.5h0.4h0.4h0.6h0.2h0.2h0.1h0.5h0.3h0.5h0.6h0.5h0.1h0.4h0.6h0.7h0.2h0.4h0.4h0.6h1.1h0.6h0.5h0.8h0.3h0.1h0.1h0.4h0.4h1h0.2h0.5h0.3h0.2h0.4h0.6h0.1h0.5h0.2h0.4h0.6h0.3h0.1h0.5h0.4h0.4h0.1h0.3M58 123.2h1.1h2.4h0.5h0.6h0.5h0.6h0.9h0.3h0.6h0.2h2h1.2h1h0.4h0.1h0.8h0.4h1.3h1.3h0.7h1.1h1h0.3h0.4h0.6h0.8h0.3h0.7h0.3h0.6h1.9h0.5h0.2h0.2h1.7h0.6h0.6h1.1h0.7h1.1h0.7h0.6h0.5h0.3h0.1h1.2h0.5h1h0.3h1.6h0.5h0.6h1.2h0.6h0.5h0.5h0.5h1.4h0.7h0.1h0.6h0.7h0.6h0.7h1.1h0.5h1.2h1.4h0.2h0.2h0.2h1.4h0.1h1.2h0.1h0.6h0.5h0.1h0.3h0.4h0.7h0.1h2.3h0.7h0.7h0.8h0.2h0.7h0.8h0.4h0.4h1.7h0.6h0.6h0.2h0.9h0.9h1.7h1.1h0.4h0.2h1.5h0.6h0.4h1.1h0.1h0.1h0.4h0.9h0.8h1.7h0.5h0.5h0.3h0.2h1.3h1.1h3.3h0.4h1.4h0.6h0.9h0.2h0.4h0.9h0.5h0.4h0.4h0.2h0.4h0.9h0.7h0.9h0.1h0.2h0.2h0.5h1.1h0.2h0.5h0.2h0.7h0.2h0.3h0.7h0.3h0.3h0.3h0.7h0.1h0.6h0.9h0.3h0.3h0.1h0.7h0.8h0.9h0.4h0.9h1.7h0.6h0.3h1.1h0.5h0.3h0.5h0.6h1.6h1.3h0.3h2.1h0.1h0.5h1.9h1.9h0.8h1.9h0.3h0.4h0.6h0.7h1.1h0.5h1.7h0.5h1h0.5h1.9h0.1h1.7h0.9h0.5h0.4h1h0.2h1.1h1.1h0.2h0.1h0.3h0.3h0.9h0.6h0.2h0.7h0.3h0.2h0.5h0.2h0.6h0.5h0.9h0.8h0.5h0.1h1.1h0.6h0.5h0.2h0.9h0.5h1h1.4h0.8h1.7h0.5h1.2h0.4h0.9h1.6h0.2h0.4h0.5h0.2h0.5h0.2h0.5h0.3h0.6h1h0.4h1.5h0.8h1.4h0.5h0.7h1h1.8h0.5h0.4h0.1h1.4h0.6h0.2h1h1h1.5h0.5h0.2h0.8h1.1h0.2h0.1h0.7h1.1h0.6h0.3h1.6h0.3h1.4h2.7h1.3h1.1h0.2h1.2h0.3h1h0.3h0.4h1.1h0.1h0.1h0.1h0.8h0.1h0.2h1h0.5h0.3h0.3h1.7h0.1h0.1h0.5h1h0.9h0.7h0.3h0.7h0.6h1.2h0.5h0.5h0.3h0.8h0.2h0.3h0.8h1.3h0.1h0.1h1.3h0.3h0.3h0.1h0.5h1.7h0.1h0.3h0.6h0.7h0.2h0.8h0.3h0.1h1.2h1.3h1.8h0.3h1.8h0.7h0.1h1h0.7h0.3h0.1h0.3h0.6h1h0.6h0.6h1.1h0.4h1.1h0.3h0.9h0.3h0.3h1.6h1h0.3h0.3h0.3h0.3h0.2h2.5h0.1h0.7h0.7h0.9h0.8h1.9h0.6h1h0.6h0.5h1.3h0.5h0.9h0.2h1.1h0.8h0.5h1h1.4h1.1h0.6h0.2h0.6h0.4h0.5h0.1h2h1.4h0.3h0.1h2.5h0.4h1.5h1.7h0.2h0.4h0.5h0.7h0.8h0.6h1.1h0.2h0.4h0.1h1.2h0.2h1.2h1.3h0.4h0.1h0.3h0.9h0.9h0.4h0.5h0.2h0.3h0.3h0.4h1.2h2.1h1.1h0.1h1h1h0.3h1h0.3h0.1h0.2h0.5h0.2h0.4h0.7h0.3h0.4h0.3h0.6h1h1h0.6h0.7h0.1h0.7h0.3h0.5h0.2h1.3h2.3h0.3h0.2h0.6h0.3h0.5h1.1h0.1h1.3h0.3h0.9h0.2h0.4h0.6h0.3h0.8h0.6h0.1h0.3h0.7h0.7h0.9h0.3h0.5h0.4h0.1h0.3h0.1h0.2h0.8h0.3h0.2h0.2h0.8h0.3h0.9h0.5h1.1h0.1h0.4h0.6h2h1h0.2h1.1h1.7h0.1h0.8h1.2h0.3h0.8h0.1h1h1.1h0.1h1h1h0.4h0.5h1.4h1h0.2h0.3h0.1h0.6h0.1h0.5h0.6h0.7h1.1h0.5h1.5h1h1.2h0.3h0.4h1.8h2h0.9h0.1h1.2h0.3h0.4h0.2h0.4h0.5h0.6h0.3h0.9h0.4h1.3h0.7h0.1h1.2h1.2h1.6h0.2h0.3h1.7h0.3h1.1h0.2h0.9h1h0.3h0.8h0.1h0.3h1h0.9h0.3h1.1h0.2h1.5h1.3h0.4h0.1h0.7h0.7h0.2h0.7h1.3h0.1h0.7h1.1h0.4h1.2h0.5h1h0.6h0.2h1h0.1h1.5h0.1h0.2h0.1h0.3h0.2h0.6h0.2h0.4h2.6h0.6h1h0.6h0.3h0.2h0.4h0.4h0.3h0.4h0.6h0.1h0.9h2h0.4h0.5h0.5h0.3h0.6h0.3h1.7h1.3h1h0.8h2h1.1h0.1h0.8h0.5h1.5h0.3h0.4h1.3h0.7h1.6h0.5h0.4h0.8h0.9h0.7h0.6h1.1h0.5h0.2h0.1h0.6h0.5h0.8h1.6h0.3h2.4h0.6h1.3h0.3h0.4h0.3h0.7h0.2h1.4h0.5h0.7h2.8h0.7h0.8h1h0.6h0.3h0.6h0.7h0.1h1.1h0.4h0.7h0.9h0.3h1.3h1.2h0.4h1.6h0.2h1h0.5h0.3h0.3h0.9h0.3h0.2h0.4h0.3h0.6h0.6h0.7h0.9h0.2h1.2h0.6h0.6h1.1h0.2h2.1h0.5h0.6h0.8h1.3h0.2h2.1h0.9h0.4h0.8h0.3h0.1h0.6h0.5h0.5h0.7h0.5h0.5h0.5h0.8h0.4h0.3h0.1h0.1h0.2h0.1h1.3h3h0.8h0.1h0.6h1.4h0.5h2.3h0.9h1.3h0.2h0.2h1.1h0.5h0.6h0.4h1.2h0.2h0.5h0.1h0.6h0.9h0.5h0.2h0.5h0.1h1.5h0.1h0.5h0.8h0.6h0.9h0.5h1.6h0.4h0.4h0.3h0.6h0.3h0.8h0.9h0.4h1.3h1.3h0.1h1.3h1h0.5h4h0.6h1.7h0.7h0.5h0.7h0.9h0.4h0.1h0.1h0.7h1.2h0.5h0.3h0.3h0.4h1h0.2h1.7h1.3h0.7h0.2h0.8h0.3h0.6h0.4h0.8h0.9h0.2h0.8h0.1h0.2h1h0.5h0.9h2.2h0.5h0.4h0.4h0.8h0.7h1.9h1.1h0.2h0.5h0.9h0.1h0.2h0.2h0.4h0.7h1.9h0.2h0.4h0.4h4.6h1h1.3h0.5h0.4h0.2h0.9h0.2h0.9h0.6h0.5h1.4h0.2h0.5h1.1h0.7h0.2h0.2h0.1h0.6h0.7h0.4h0.4h0.6h0.1h2h0.3h0.1h0.5h1.3h0.7h1.1h1.1h0.3h0.3h1.1h0.5h1.1h0.5h0.6h0.2h0.1h0.7h1.1h0.7h0.6h1.2h0.8h0.1M58 110.3h0.7h0.2h0.1h0.5h1h0.8h2h1.3h0.6h2.7h0.8h1.2h0.9h0.4h0.6h0.3h0.6h0.4h0.4h0.7h2.2h0.8h1.3h0.4h0.2h2.1h1h0.8h1.3h1.8h0.8h1.9h0.4h3.3h1.6h1.5h0.9h1.3h0.8h1.6h0.5h0.9h0.7h1.4h0.7h1.1h2.1h1h1.1h1.7h1.4h1h1.5h0.2h0.7h0.8h1.6h0.5h1.8h1h2.3h0.4h2.1h1.3h1.1h1.4h2.4h0.5h0.3h0.7h0.5h0.5h1.7h0.4h1h1.3h0.7h2.5h2.5h0.5h0.3h2.1h0.3h2.1h1.6h1.8h0.5h0.3h0.2h0.3h1h1.1h0.7h0.2h1.3h0.9h0.1h1.3h0.9h0.8h1.1h0.6h0.7h0.5h0.6h1.2h1.7h1.1h0.4h1.2h2.2h1.2h1.3h1.3h0.4h0.8h0.3h0.1h0.7h2.1h0.5h0.8h0.8h1.1h0.3h1.1h0.9h0.7h5.1h0.9h0.2h0.4h1.6h0.1h0.4h2.1h2.8h0.2h1.7h1.4h0.2h0.2h1.1h1.5h2.2h1.4h0.8h2.1h2.1h0.6h1.2h2.6h0.6h1.5h0.5h1.2h2.6h0.5h2.3h0.2h1.9h0.4h1.5h0.5h1.8h0.9h2.3h0.5h3.6h1h1.2h0.4h1.6h1.1h1h0.1h0.7h1.4h0.3h0.6h0.9h0.5h0.8h2h0.1h0.4h0.2h0.2h0.7h1.1h0.7h0.4h0.1h0.7h0.1h1.7h0.3h0.5h0.6h0.3h0.4h0.3h0.1h0.8h1.3h0.6h0.9h0.3h0.2h1.1h0.7h0.6h0.6h0.9h0.4h0.6h0.4h0.5h0.2h0.5h0.1h0.6h0.1h1h0.8h0.4h0.3h2h0.4h0.2h1h0.4h1.6h1.2h0.2h0.8h0.1h0.6h0.1h0.9h0.5h0.4h1h0.9h1.7h1.7h3.1h1h1h0.1h0.4h0.3h0.2h1.2h1h0.3h0.2h1h0.3h0.3h1.1h0.4h0.7h1.1h0.6h0.6h1h0.8h0.7h0.1h1h0.3h2.1h1.3h3.4h0.1h0.5h0.5h0.5h0.8h0.5h1.4h1.2h1h0.9h0.3h0.3h0.7h0.5h1.1h1.2h1.4h1.7h1.1h0.8h0.5h1h0.6h0.5h0.9h0.2h0.8h0.7h0.5h0.6h1.5h2.8h1h1.8h0.9h1.7h0.3h0.1h1.1h0.7h0.7h0.9h0.5h1.1h0.6h0.9h0.5h1.2h0.2h0.6h2.6h0.4h0.2h0.9h2.1h1h0.7h1.2h1h0.7h1.1h3.3h0.9h1.3h0.6h0.6h2.5h0.3h1.5h0.8h0.5h1h0.4h1.2h0.2h0.5h1.2h0.4h1.1h1.4h0.7h0.4h0.2h0.4h2.4h0.1h0.6h0.7h0.5h0.6h0.7h1.3h0.1h0.6h0.7h0.5h0.3h0.4h0.6h0.2h0.7h0.2h0.5h0.5h0.1h0.7h0.5h0.3h2.6h0.3h1.7h0.5h0.3h0.5h1.2h0.4h0.5h0.2h1.1h2h1.4h0.6h0.2h1.5h1.1h1h0.1h0.5h1.7h0.7h2.1h1.5h0.6h1.5h0.4h0.7h0.4h0.1h0.4h0.7h0.6h0.3h1.2h0.5h1.5h0.1h0.1h1.2h0.5h0.2h0.7h0.2h0.8h1.6h2.5h0.9h1.6h1h0.2h0.2h1h1.4h0.5h0.6h0.4h0.3h1.5h0.5h0.8h0.7h1.1h2.4h1.4h0.9h0.5h0.4h0.6h1.6h0.2h0.9h0.4h0.1h1.6h1.1h1h0.4h0.1h1.3h0.5h2h0.6h1.3h2.1h1.9h0.3h0.6h1.1h0.1h1.4h1.6h0.9h0.6h0.2h0.4h0.1h0.4h0.1h2.8h0.8h1.4h0.8h0.8h2.5h0.3h0.9h0.6h0.2h0.9h1.3h0.1h1.3h1.1h0.9h0.6h0.4h0.8h1.4h1.2h1h0.8h0.3h1.1h0.2h0.5h1.1h1.1h1h0.2h0.2h1.7h0.3h0.3h1.1h0.4h0.1h1.2h0.6h0.8h1.3h1.1h1.8h2h0.7h0.1h0.3h0.5h0.8h1.1h1.1h1.6h0.3h1h2.4h0.1h0.3h3.1h0.1h2.4h0.8h0.3h0.7h1.3h0.6h0.1h0.7h1.1h1.2h0.1h0.3h0.5h1h1.1h0.1h2h2.1h1.3h0.5h3.2h1.5h2h0.9h0.7h0.7h0.7h0.6h0.5h0.8h0.6h0.2h0.6h1h0.7h1.1h0.4h2h1h0.5h0.1h0.5h0.4h0.4h0.4h0.2h0.3h1.1h1.3h0.4h1.9h0.8h0.6h0.8h1.3h0.9h0.5h0.1h1.1h0.1h1.8h0.2h0.3h0.2h0.8h1.2h1.4h0.7h0.4h2h0.6h0.5h0.1h1.4h0.6h0.5h0.9h0.4h0.7h0.4h0.1h0.4h1h0.6h0.9h1.4h1.1h4.3h1.3h0.5h0.8h0.4h1.3h1.2h2.9h0.6h0.6h1.5h0.8h2.1h0.4h0.4h0.2h3.3h0.1h2.2h0.1h0.5h0.9h0.8h1.5h1.8h0.3h0.9h0.7h1.7h0.4h1h1.1h0.1M58.2 97.5h1.8h1.1h1.4h1.5h1.2h0.1h0.4h2.8h0.8h1.7h0.3h0.6h3.3h1.7h1.9h1.5h1.2h1.3h2.6h1.6h0.4h0.2h0.2h3.5h0.4h2.3h5.8h0.6h1h0.5h1.4h0.5h1.7h0.1h2h0.2h3.5h0.3h0.2h0.7h1.1h0.4h1.7h2.5h0.2h2.1h0.2h0.2h1.3h1.6h0.7h1.5h0.3h0.2h0.8h1.4h2.8h0.5h1.4h1.1h2.4h0.9h2.6h1.1h0.2h0.6h0.3h0.7h0.8h0.4h0.7h0.6h0.8h0.1h1.2h0.5h0.1h0.3h0.7h1.8h3.1h2.7h1h2.8h0.1h2.9h0.4h1.4h3.8h1.8h2.4h0.4h0.3h1.6h2h1.4h3.7h1.4h2.9h0.2h3h1.3h1.4h3.2h2.1h0.4h3h1.7h0.2h2.3h2.4h1.4h1.3h0.1h4.1h1.2h0.5h0.6h0.4h0.6h1.3h0.1h1.2h0.4h0.8h0.1h0.9h0.9h0.3h0.7h0.7h1.4h1h2h2.9h3.1h1.3h0.7h2.2h1.7h0.4h0.6h1.4h5.8h0.5h0.3h0.3h0.7h1.3h1.7h1h0.8h0.4h2.4h0.6h0.7h1.4h5.4h3h1.5h0.1h5.5h0.8h0.4h2.8h3.1h3.7h1.9h0.9h0.7h0.3h2h0.6h0.1h1.4h2.5h1.5h0.7h3h0.1h2.6h0.8h0.2h1.2h0.6h3.4h0.6h0.9h0.7h0.5h1.3h1.2h1.2h0.9h0.2h1.1h1h0.1h0.9h0.4h0.7h4.7h1.3h1.5h1.1h0.1h4.5h0.2h0.8h0.8h2.2h3.1h3.6h2.3h0.1h1.5h0.8h1.5h0.6h3.3h3.8h1h1.1h0.2h1.9h1.6h1.4h1.2h2.7h5.4h0.4h0.8h1.1h0.6h0.8h0.9h0.7h2.5h0.3h4.7h0.9h0.5h2.1h1.1h1.4h3.8h0.4h2.2h1.1h0.7h2.1h0.9h0.6h0.6h1.8h0.4h1.8h0.3h2.9h0.8h2h1.2h0.6h1.9h2.3h1.6h0.8h1.6h0.4h0.2h1.1h2.3h0.5h0.7h4.3h0.9h1.9h0.5h3.2h0.3h2.3h2.4h1.5h1.5h1.6h0.2h1.8h3.5h1.6h1.7h0.6h0.5h1.8h2.5h3.3h1.8h1.8h5.1h3.2h0.8h1.8h3.8h0.4h1.8h0.8h1.9h0.2h0.7h2.8h0.7h0.6h2.5h2.1h0.6h2.4h1.3h1.6h2.5h2.2h0.2h2.4h1.8h0.7h0.1h0.4h0.9h2.2h2.4h0.7h0.9h0.5h5.4h1.4h0.2h2.1h2.5h1h0.3h1.4h0.4h0.1h0.8h1.9h1.1h0.3h3.8h0.1h3.3h3.3h0.9h1.2h2.9h3.1h2h3.8h1h1h3.4h3.3h0.9h2.5h2.7h1.6h3h1.5h2.1h0.9h0.4h0.5h1.3h2.9h2.9h0.4h1.3h4.3h0.4h7h0.6h4.8h2.5h2.4h0.5h1.2h0.2h1.1h1.3h4.9h0.3h1.5h1.3h1.9h3.5h0.1h1.8h0.8h1.2h1h1h3h0.5h0.5h2.9M56.6 84.7h6.2h4.2h1h5.3h0.6h4.3h0.3h3h1.9h0.2h2.8h0.2h2.3h0.2h0.4h2.2h7h0.6h1h15.8h9.9h6.5h2h11h6.9h1.3h0.8h5.6h0.1h2.9h0.5h0.2h0.2h0.6h4.4h2.7h3h1.4h2.4h0.2h0.2h0.7h3.4h4.9h2.7h1.8h1.1h4.7h3.6h0.9h5.1h7.7h3.3h3.4h0.6h6.7h0.2h0.9h2.4h0.3h1.1h0.1h1.9h2.4h1.5h3.5h0.7h6.8h2.6h1.8h5.5h9.2h3.3h0.2h3.6h3.1h11h0.7h1h2.2h0.1h1.2h0.3h0.3h0.1h2.9h0.3h0.6h1h4.1h0.2h1.1h1.6h4.3h3.5h3.9h0.7h1.1h0.9h6.7h0.6h7h8.4h0.5h0.5h0.8h0.8h2h3.9h0.1h0.7h0.7h1.3h4.5h6.3h2.9h3.4h0.2h6.9h4.5h6.2h4.8h1.5h1.6h0.3h3h0.2h0.2h0.7h0.5h1.3h0.2h0.1h0.3h0.4h8.9h6.2h5h6.2h5h2.4h6.2h5h3.7h3.1h1.5h0.2h0.5h0.6h0.7h0.2h2.8h5.1h6h3.6h8.9h1.4h0.1h0.2h0.9h0.6h1.7h1.8h0.4h0.1h0.3h2.7h2.2h0.4h0.4h0.8h0.7h0.1h0.1h0.1h0.1h0.2h0.4h0.9h0.1h0.9h0.5h4.6h0.9h2.2h4h2.4h0.6h0.9h0.3h3h1.5h3h0.8h0.5h3.4h3.3h6.2h0.9h0.5h0.5h0.4h0.5h2h4.6h1.1h1.1h1.4h1.3h1.4h0.8h0.1h3.1h0.1h2.2h4.8h3.1h2.7h1.3h0.4h3.1h0.9h3.2h1.5h0.4h0.4h0.6h0.4h1.3h0.4h0.9h0.2h1h1h1h0.6h5.3h2.6h0.4h0.2h0.4h4.7h3.3h0.3h3.5h7.8h2.2h0.8h1.6h0.3h0.1h14.1h1h9M77 71.8h3h12.1h8.4h13.1h5h5h4.9h3h3.2h3.8h3h2.5h1h2.6h9.5h5.4h11.9h5h6.2h16.1h3.8h3.5h4h5h5h2h3h4h6h4h4h2h2h9.6h11.1h11.2h9.4h6.7h9h2h16.3h5h17.2h1.5h2.9h5.7h11.1h2h11.2h4.5h14.6h1.5h12h1.5h4.3h7.7h2h4h7.4h46.1h2.5h2.5h2.5h3h10.4h3.1h1.5h6.6h5h4.9h14h7.5h8.2h8.3h1.5h6.8h17.4h16.1h12.7h6h4h5h5h2h2h4h6M65.3 59h10.7h1.5h3.9h4.9h18.2h8.4h15.6h1.5h14.7h6.2h21.6h22.3h20.4h7.7h5.6h10.7h10.8h5.1h2.5h8.2h14.8h12.4h10h18.6h6.2h31.7h11.3h19.7h1.5h7.8h39.9h24.1h28.7h1.5h9h18h31h3h15.8h9.2h24.8h5.7h11.2h7.4h5.5h5.7h14.9M105.7 46.1h4.9h81.6h17.6h24.7h4.1h54.3h31.7h44.5h32.4h4.2h36.6h4.5h60.8h43h4.2h6.7h0.6h27.4h16.8h30.5h14.9M72 33.3h16.9h144.4h99.4h19.3h10.9h102.9h19.1h43.7h28.2h13.8h63.3M219.6 20.5" fill="none" stroke="none" marker-start="url(#s)" marker-mid="url(#s)" marker-end="url(#s)"/>
<g stroke="#000" stroke-width="0.75" fill="none">
<rect x="33.45" y="0.5" width="651.05" height="261"/>
<line x1="57.5" y1="261.5" x2="57.5" y2="265.8"/><line x1="178.5" y1="261.5" x2="178.5" y2="265.8"/><line x1="298.5" y1="261.5" x2="298.5" y2="265.8"/><line x1="419.5" y1="261.5" x2="419.5" y2="265.8"/><line x1="540.0" y1="261.5" x2="540.0" y2="265.8"/><line x1="660.5" y1="261.5" x2="660.5" y2="265.8"/><line x1="29.3" y1="226.0" x2="33.5" y2="226.0"/><line x1="29.3" y1="143.5" x2="33.5" y2="143.5"/><line x1="29.3" y1="61.5" x2="33.5" y2="61.5"/>
</g>
<g style="will-change:transform"><text transform="translate(57.5 277.9) scale(1 1.13)">0</text><text transform="translate(178.5 277.9) scale(1 1.13)">2000</text><text transform="translate(298.5 277.9) scale(1 1.13)">4000</text><text transform="translate(419.5 277.9) scale(1 1.13)">6000</text><text transform="translate(540.0 277.9) scale(1 1.13)">8000</text><text transform="translate(660.5 277.9) scale(1 1.13)">10000</text><text transform="translate(23.3 226.0) rotate(-90) scale(0.98 1.08)">0.00</text><text transform="translate(23.3 143.5) rotate(-90) scale(0.98 1.08)">0.05</text><text transform="translate(23.3 61.5) rotate(-90) scale(0.98 1.08)">0.10</text>
<text transform="translate(358.9 294.6) scale(1 1.13)">Number of S−boxes</text>
<text transform="translate(5.7 130.2) rotate(-90) scale(1.01 1)">Maximal LAP</text></g>
</svg>
</body></html>
